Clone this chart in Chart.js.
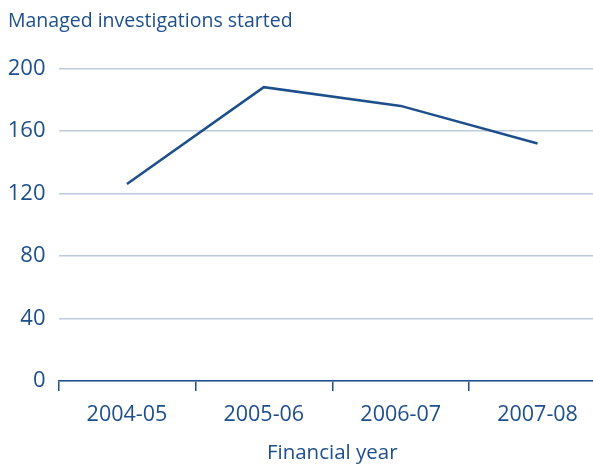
<!DOCTYPE html>
<html>
<head>
<meta charset="utf-8">
<script src="https://cdn.jsdelivr.net/npm/chart.js@4/dist/chart.umd.min.js"></script>
<style>
  html, body { margin: 0; padding: 0; background: #fff; overflow: hidden; }
  #wrap { width: 606px; height: 465px; }
</style>
</head>
<body>
<div id="wrap"><canvas id="lineChart"></canvas></div>
<script>
var years = ["2004-05", "2005-06", "2006-07", "2007-08"];
var started = [126, 188, 176, 152];
var yTicks = [0, 40, 80, 120, 160, 200];

var blue = "#1d4f8c";
var gridGrey = "#bccadb";
var fontFamily = "'Open Sans', sans-serif";

document.addEventListener("DOMContentLoaded", function () {
    var ctx = document.getElementById("lineChart").getContext("2d");
    var lineChart = new Chart(ctx, {
        type: "line",
        data: {
            labels: years,
            datasets: [
                {
                    label: "Managed investigations started",
                    data: started,
                    borderColor: blue,
                    borderWidth: 2.5,
                    pointRadius: 0,
                    tension: 0,
                    fill: false,
                },
            ],
        },
        options: {
            responsive: true,
            maintainAspectRatio: false,
            animation: false,
            layout: { padding: { left: 8, right: 0, top: 10, bottom: 0 } },
            plugins: {
                legend: { display: false },
                tooltip: { enabled: false },
                title: {
                    display: true,
                    text: "Managed investigations started",
                    align: "start",
                    color: blue,
                    font: { family: fontFamily, size: 19.5, weight: "normal" },
                    padding: { top: 0, bottom: 35 },
                },
            },
            scales: {
                x: {
                    offset: true,
                    afterFit: function (axis) { axis.height = 84; },
                    grid: {
                        offset: true,
                        drawOnChartArea: false,
                        color: blue,
                        lineWidth: 1.5,
                        tickLength: 10,
                    },
                    border: { color: blue, width: 1.5 },
                    ticks: {
                        color: blue,
                        font: { family: fontFamily, size: 21.5 },
                        padding: 11,
                    },
                    title: {
                        display: true,
                        text: "Financial year",
                        color: blue,
                        font: { family: fontFamily, size: 20.5 },
                        padding: { top: 12, bottom: 0 },
                    },
                },
                y: {
                    min: 0,
                    max: 200,
                    afterFit: function (axis) { axis.width = 50.5; },
                    afterBuildTicks: function (axis) {
                        axis.ticks = yTicks.map(function (v) { return { value: v }; });
                    },
                    grid: {
                        color: gridGrey,
                        lineWidth: 1.5,
                        drawTicks: false,
                    },
                    border: { display: false },
                    ticks: {
                        color: blue,
                        font: { family: fontFamily, size: 22 },
                        padding: 13,
                    },
                },
            },
        },
    });
});
</script>
</body>
</html>
